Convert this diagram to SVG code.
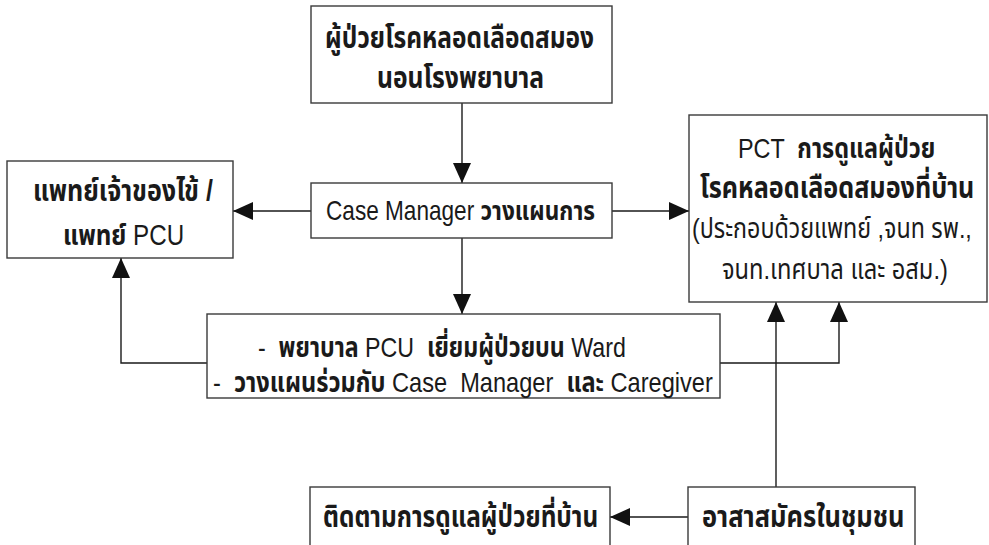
<svg xmlns="http://www.w3.org/2000/svg" width="989" height="545" viewBox="0 0 989 545">
<style>
.box{fill:#fff;stroke:#3a3a3a;stroke-width:1.4}
.con{fill:none;stroke:#1a1a1a;stroke-width:1.4;marker-end:url(#ah)}
text{font-family:"Liberation Sans","Noto Sans Thai","Loma",sans-serif;fill:#1a1a1a;white-space:pre}
.b{font-weight:bold}
</style>
<defs>
<marker id="ah" markerUnits="userSpaceOnUse" markerWidth="20" markerHeight="18" viewBox="0 0 20 18" refX="20" refY="9" orient="auto">
<path d="M0,0 L20,9 L0,18 Z" fill="#111"/>
</marker>
</defs>
<rect width="989" height="545" fill="#fff"/>
<g id="connectors">
<path class="con" d="M462,103 V183"/>
<path class="con" d="M311,211 H233"/>
<path class="con" d="M612,211 H689"/>
<path class="con" d="M462,238 V314"/>
<path class="con" d="M207,363 H121 V258"/>
<path class="con" d="M720,363 H839 V302"/>
<path class="con" d="M776,487 V302"/>
<path class="con" d="M688,517 H610"/>
</g>
<g id="n_patient">
<rect class="box" x="311" y="6" width="301" height="97"/>
<text class="b" transform="translate(325,48) scale(1,1.2)" font-size="24.5">ผู้ป่วยโรคหลอดเลือดสมอง</text>
<text class="b" transform="translate(377,88) scale(1,1.2)" font-size="24.7">นอนโรงพยาบาล</text>
</g>
<g id="n_case">
<rect class="box" x="311" y="183" width="301" height="55"/>
<text transform="translate(326,220) scale(1,1.2)" font-size="22.6">Case Manager <tspan class="b">วางแผนการ</tspan></text>
</g>
<g id="n_doctor">
<rect class="box" x="7" y="161" width="226" height="97"/>
<text class="b" transform="translate(33,201) scale(1,1.2)" font-size="25.1">แพทย์เจ้าของไข้ /</text>
<text transform="translate(63,245) scale(1,1.2)" font-size="24.2"><tspan class="b">แพทย์</tspan> PCU</text>
</g>
<g id="n_pct">
<rect class="box" x="689" y="115" width="298" height="187"/>
<text transform="translate(738,158) scale(1,1.2)" font-size="23.4">PCT  <tspan class="b">การดูแลผู้ป่วย</tspan></text>
<text class="b" transform="translate(700,198) scale(1,1.2)" font-size="25.2">โรคหลอดเลือดสมองที่บ้าน</text>
<text transform="translate(692,238) scale(1,1.2)" font-size="23.3">(ประกอบด้วยแพทย์ ,จนท รพ.,</text>
<text transform="translate(722,279) scale(1,1.2)" font-size="23.7">จนท.เทศบาล และ อสม.)</text>
</g>
<g id="n_nurse">
<rect class="box" x="207" y="314" width="513" height="84"/>
<text transform="translate(258,357) scale(1,1.2)" font-size="23.2">-  <tspan class="b">พยาบาล</tspan> PCU  <tspan class="b">เยี่ยมผู้ป่วยบน</tspan> Ward</text>
<text transform="translate(213,392) scale(1,1.2)" font-size="23.6">-  <tspan class="b">วางแผนร่วมกับ</tspan> Case  Manager  <tspan class="b">และ</tspan> Caregiver</text>
</g>
<g id="n_follow">
<rect class="box" x="310" y="487" width="300" height="70"/>
<text class="b" transform="translate(323,527) scale(1,1.2)" font-size="24.4">ติดตามการดูแลผู้ป่วยที่บ้าน</text>
</g>
<g id="n_volunteer">
<rect class="box" x="688" y="487" width="227" height="70"/>
<text class="b" transform="translate(702,527) scale(1,1.2)" font-size="25.5">อาสาสมัครในชุมชน</text>
</g>
</svg>
